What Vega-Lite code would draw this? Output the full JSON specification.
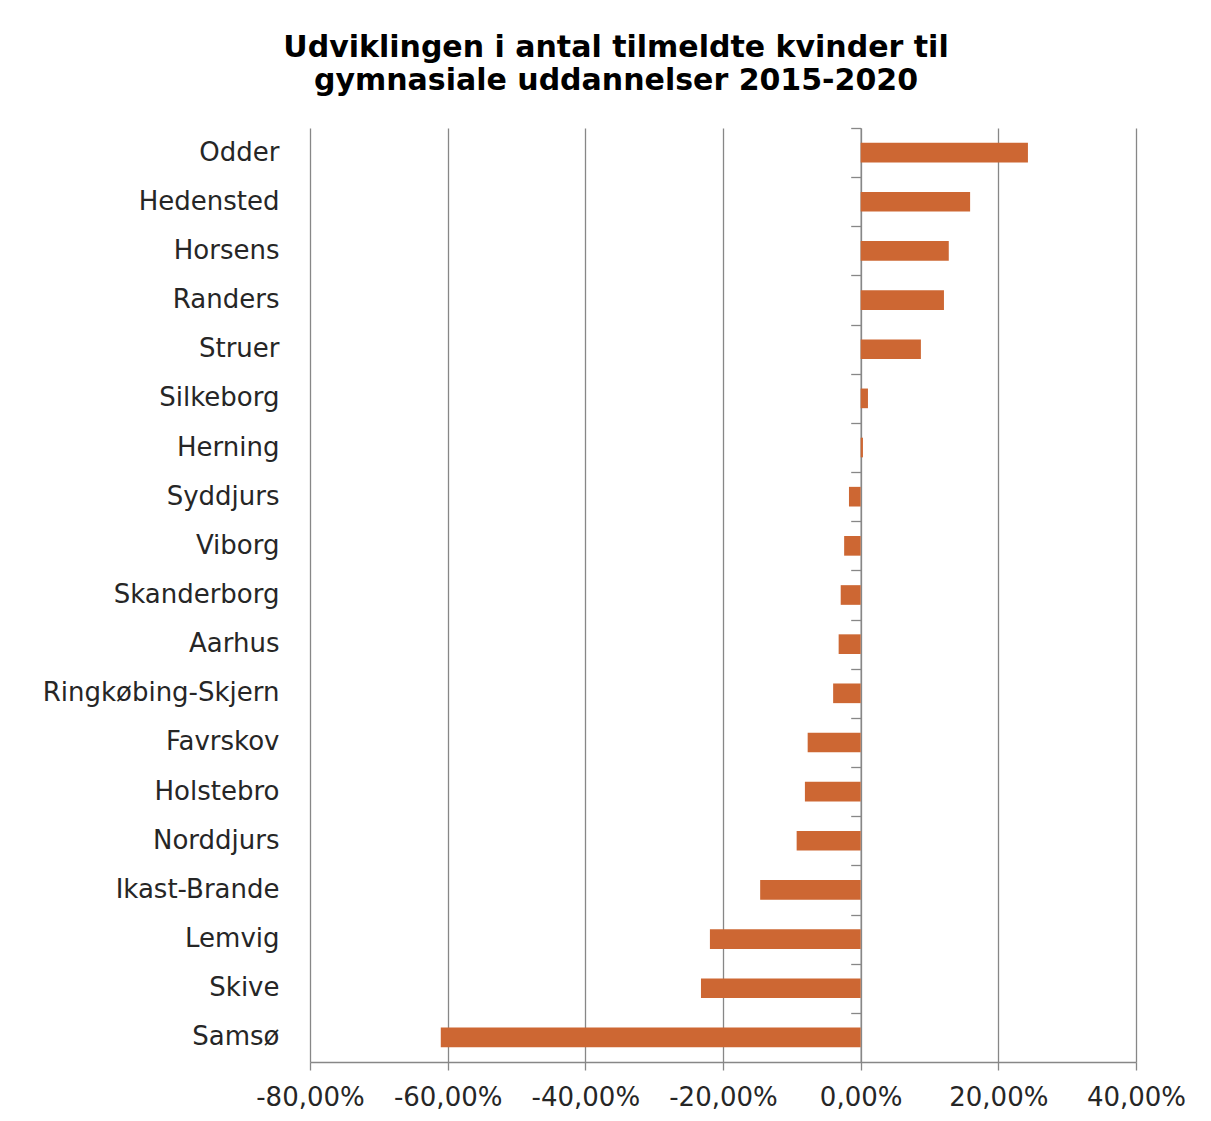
{
  "$schema": "https://vega.github.io/schema/vega-lite/v6.json",
  "width": 826,
  "height": 934,
  "autosize": {"type": "none"},
  "padding": {"left": 310, "top": 128, "right": 75, "bottom": 59},
  "background": "white",
  "title": {
    "text": ["Udviklingen i antal tilmeldte kvinder til", "gymnasiale uddannelser 2015-2020"],
    "font": "DejaVu Sans",
    "fontWeight": "bold",
    "fontSize": 30,
    "lineHeight": 33,
    "color": "#000000",
    "anchor": "middle",
    "dx": -107,
    "offset": 31
  },
  "data": {
    "values": [
      {"Kommune": "Odder", "Udvikling": 0.243},
      {"Kommune": "Hedensted", "Udvikling": 0.159},
      {"Kommune": "Horsens", "Udvikling": 0.128},
      {"Kommune": "Randers", "Udvikling": 0.121},
      {"Kommune": "Struer", "Udvikling": 0.0875},
      {"Kommune": "Silkeborg", "Udvikling": 0.0106},
      {"Kommune": "Herning", "Udvikling": 0.0033},
      {"Kommune": "Syddjurs", "Udvikling": -0.017},
      {"Kommune": "Viborg", "Udvikling": -0.024},
      {"Kommune": "Skanderborg", "Udvikling": -0.029},
      {"Kommune": "Aarhus", "Udvikling": -0.032},
      {"Kommune": "Ringkøbing-Skjern", "Udvikling": -0.040},
      {"Kommune": "Favrskov", "Udvikling": -0.077},
      {"Kommune": "Holstebro", "Udvikling": -0.081},
      {"Kommune": "Norddjurs", "Udvikling": -0.093},
      {"Kommune": "Ikast-Brande", "Udvikling": -0.146},
      {"Kommune": "Lemvig", "Udvikling": -0.219},
      {"Kommune": "Skive", "Udvikling": -0.232},
      {"Kommune": "Samsø", "Udvikling": -0.610}
    ]
  },
  "layer": [
    {
      "mark": {"type": "bar", "color": "#CD6733"},
      "encoding": {
        "y": {
          "field": "Kommune",
          "type": "nominal",
          "sort": null,
          "scale": {"paddingInner": 0.6, "paddingOuter": 0.3},
          "axis": {
            "orient": "left",
            "title": null,
            "domain": false,
            "ticks": false,
            "grid": false,
            "labelPadding": 31,
            "labelFont": "DejaVu Sans",
            "labelFontSize": 26,
            "labelColor": "#262626",
            "labelLimit": 400
          }
        },
        "x": {
          "field": "Udvikling",
          "type": "quantitative",
          "scale": {"domain": [-0.8, 0.4], "nice": false, "zero": false},
          "axis": {
            "title": null,
            "format": "0.2%",
            "values": [-0.8, -0.6, -0.4, -0.2, 0, 0.2, 0.4],
            "grid": true,
            "gridColor": "#878787",
            "gridWidth": 1.3,
            "domain": true,
            "domainColor": "#878787",
            "domainWidth": 1.3,
            "ticks": true,
            "tickSize": 8,
            "tickColor": "#878787",
            "tickWidth": 1.3,
            "labelPadding": 14,
            "labelFont": "DejaVu Sans",
            "labelFontSize": 26,
            "labelColor": "#262626",
            "labelFlush": false,
            "labelOverlap": false
          }
        }
      }
    },
    {
      "mark": {"type": "point", "opacity": 0},
      "encoding": {
        "y": {
          "field": "Kommune",
          "type": "nominal",
          "sort": null,
          "scale": {"paddingInner": 0.6, "paddingOuter": 0.3},
          "axis": {
            "orient": "left",
            "offset": -550.7,
            "title": null,
            "labels": false,
            "grid": false,
            "domain": true,
            "domainColor": "#878787",
            "domainWidth": 1.3,
            "ticks": true,
            "tickOffset": -24.58,
            "tickSize": 10,
            "tickColor": "#878787",
            "tickWidth": 1.3
          }
        },
        "x": {"field": "Udvikling", "type": "quantitative"}
      }
    }
  ],
  "resolve": {"axis": {"y": "independent"}},
  "config": {
    "view": {"stroke": null},
    "locale": {
      "number": {
        "decimal": ",",
        "thousands": ".",
        "grouping": [3],
        "currency": ["", " kr."],
        "minus": "-"
      }
    }
  }
}
